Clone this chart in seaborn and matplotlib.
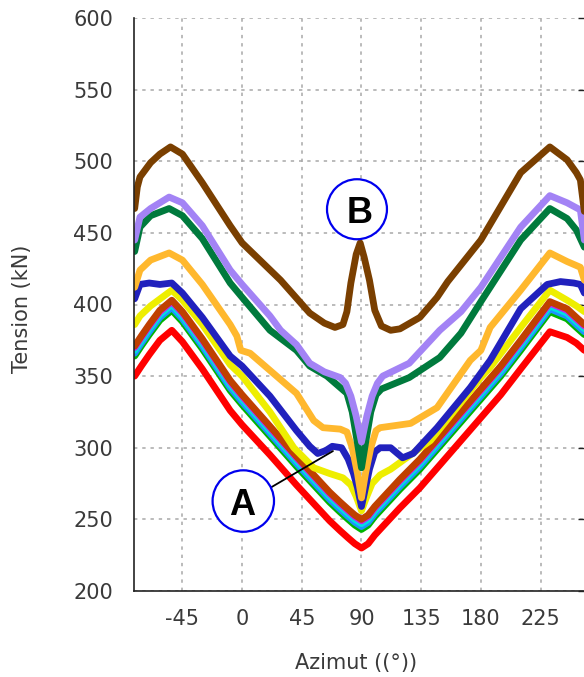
import matplotlib
matplotlib.use("Agg")
import matplotlib.pyplot as plt
from matplotlib.patches import Ellipse
import seaborn as sns
import pandas as pd

# ---------------- data ----------------
brown_x = [-81, -79, -77, -69, -62, -54, -45, -30, -9, 0, 29, 51, 62, 70, 76, 79, 82, 86, 89, 92,
           96, 100, 105, 112, 119, 134, 147, 155, 180, 210, 232, 245, 252, 255, 258]
brown_y = [467, 482, 489, 499, 505, 510, 505, 485, 455, 443, 417, 394, 387, 384, 386, 395, 415, 435, 443, 433,
           417, 396, 385, 382, 383, 391, 405, 416, 445, 492, 510, 501, 492, 487, 465]

lav_x = [-81, -77, -69, -55, -45, -30, -9, 0, 21, 29, 41, 51, 62, 74, 78, 82, 86, 90, 94, 98,
         102, 106, 126, 142, 149, 165, 180, 210, 232, 245, 255, 258]
lav_y = [445, 461, 467, 475, 471, 455, 424, 414, 392, 382, 372, 359, 353, 349, 345, 336, 322, 304, 322, 336,
         345, 350, 359, 375, 382, 395, 412, 454, 476, 471, 466, 445]

dgreen_x = [-81, -77, -69, -55, -45, -30, -9, 0, 21, 41, 51, 64, 74, 79, 83, 87, 90, 93, 97, 101,
            105, 126, 149, 165, 180, 210, 232, 245, 252, 258]
dgreen_y = [437, 454, 462, 467, 462, 446, 415, 405, 382, 368, 357, 350, 342, 338, 325, 303, 286, 303, 325, 337,
            341, 349, 363, 380, 402, 445, 467, 460, 452, 440]

orange_x = [-81, -77, -69, -55, -45, -30, -9, -4, -1, 6, 21, 41, 54, 61, 74, 79, 83, 87, 90, 93,
            97, 101, 104, 127, 147, 172, 180, 187, 210, 232, 245, 255, 258]
orange_y = [412, 424, 431, 436, 431, 414, 386, 378, 368, 366, 354, 338, 319, 314, 313, 311, 300, 282, 265, 282,
            300, 312, 314, 317, 328, 361, 368, 384, 410, 436, 430, 426, 417]

dblue_x = [-81, -77, -70, -62, -53, -45, -30, -9, 0, 21, 41, 51, 57, 63, 68, 75, 80, 84, 87, 90,
           93, 96, 100, 104, 112, 121, 129, 147, 172, 187, 210, 230, 240, 250, 255, 258]
dblue_y = [404, 414, 415, 414, 415, 408, 391, 364, 357, 336, 312, 301, 296, 298, 301, 300, 292, 282, 272, 259,
           272, 285, 297, 300, 300, 293, 296, 314, 342, 361, 397, 414, 416, 415, 414, 408]

yellow_x = [-81, -77, -69, -53, -45, -30, -9, 0, 21, 39, 54, 66, 76, 82, 86, 90, 94, 98, 104, 112,
            142, 180, 187, 210, 232, 245, 252, 258]
yellow_y = [386, 392, 399, 410, 403, 386, 358, 350, 325, 300, 286, 282, 279, 274, 266, 256, 266, 275, 281, 285,
            305, 349, 356, 384, 410, 403, 399, 395]

low_x = [-81, -76, -70, -62, -53, -45, -30, -9, 0, 21, 41, 55, 66, 74, 80, 85, 90, 95, 100, 106,
         119, 134, 150, 165, 180, 195, 210, 232, 245, 252, 258]
rust_y = [371, 378, 386, 396, 403, 395, 376, 347, 337, 315, 294, 280, 269, 262, 257, 253, 250, 253, 259, 265,
          278, 292, 309, 325, 341, 357, 375, 402, 397, 391, 386]
magenta_y = [370, 377, 385, 395, 402, 394, 375, 346, 336, 314, 293, 279, 268, 261, 256, 252, 249, 252, 258, 264,
             277, 291, 308, 324, 340, 356, 374, 401, 396, 390, 385]
cyan_y = [368, 375, 383, 393, 400, 392, 373, 344, 334, 312, 291, 277, 266, 259, 254, 250, 247, 250, 256, 262,
          275, 289, 306, 322, 338, 354, 372, 399, 394, 388, 383]
sky_y = [366, 373, 381, 391, 398, 390, 371, 342, 332, 310, 289, 275, 264, 257, 252, 248, 245, 248, 254, 260,
         273, 287, 304, 320, 336, 352, 370, 397, 392, 386, 381]
lgreen_y = [364, 371, 379, 389, 396, 388, 369, 340, 330, 308, 287, 273, 262, 255, 250, 246, 243, 246, 252, 258,
            271, 285, 302, 318, 334, 350, 368, 395, 390, 384, 379]
red_y = [350, 357, 365, 375, 382, 374, 355, 326, 316, 295, 274, 260, 249, 242, 237, 233, 230, 233, 239, 245,
         258, 272, 289, 305, 321, 337, 355, 381, 377, 373, 368]

x_ticks = [-45, 0, 45, 90, 135, 180, 225]
y_ticks = [200, 250, 300, 350, 400, 450, 500, 550, 600]

series = [
    ("red", low_x, red_y, "#ff0000"),
    ("lgreen", low_x, lgreen_y, "#00b400"),
    ("sky", low_x, sky_y, "#1e90ff"),
    ("cyan", low_x, cyan_y, "#00e0e0"),
    ("magenta", low_x, magenta_y, "#c020f0"),
    ("rust", low_x, rust_y, "#c04000"),
    ("yellow", yellow_x, yellow_y, "#eeee00"),
    ("dblue", dblue_x, dblue_y, "#2121bd"),
    ("orange", orange_x, orange_y, "#ffb82e"),
    ("dgreen", dgreen_x, dgreen_y, "#007a3d"),
    ("lavender", lav_x, lav_y, "#a383f5"),
    ("brown", brown_x, brown_y, "#7a3f00"),
]

frames = []
for name, xs, ys, _c in series:
    frames.append(pd.DataFrame({"az": xs, "kn": ys, "series": name}))
df = pd.concat(frames, ignore_index=True)
order = [s[0] for s in series]
palette = {s[0]: s[3] for s in series}

# ---------------- figure ----------------
sns.set_style("white")
plt.rcParams["font.family"] = ["DejaVu Sans"]

fig = plt.figure(figsize=(5.84, 6.77), dpi=100)
ax = fig.add_axes([134 / 584, 1 - 591 / 677, 451 / 584, 573 / 677])

sns.lineplot(data=df, x="az", y="kn", hue="series", hue_order=order, palette=palette,
             estimator=None, sort=False, legend=False, linewidth=4.9, ax=ax)

ax.set_xlim(-81.5, 258.5)
ax.set_ylim(200, 600)
ax.set_xticks(x_ticks)
ax.set_xticklabels([str(v) for v in x_ticks])
ax.set_yticks(y_ticks)
ax.set_yticklabels([str(v) for v in y_ticks])

ax.grid(True, color="#a8a8a8", linestyle=(0, (2.2, 3.2)), linewidth=1.1)
ax.set_axisbelow(True)

for side in ["top", "right"]:
    ax.spines[side].set_visible(False)
for side in ["left", "bottom"]:
    ax.spines[side].set_color("#222222")
    ax.spines[side].set_linewidth(1.2)

ax.tick_params(axis="both", direction="in", length=5, width=1, color="#222222",
               labelsize=15, labelcolor="#3a3a3a")
ax.tick_params(axis="y", pad=15, right=True, labelright=False)
ax.tick_params(axis="x", pad=13)

ax.set_xlabel("Azimut ((°))", fontsize=15, color="#3a3a3a")
ax.set_ylabel("Tension (kN)", fontsize=15, color="#3a3a3a")
ax.xaxis.set_label_coords(0.492, -0.1257)
ax.xaxis.label.set_va("center")
ax.yaxis.set_label_coords(-0.248, 0.492)
ax.yaxis.label.set_va("center")

# annotations
ax.plot([21.0, 68.5], [271.9, 297.7], color="black", linewidth=1.3, zorder=9)
ax.add_patch(Ellipse((86.6, 466.5), 45.2, 41.9, facecolor="white", edgecolor="#0000ee",
                     linewidth=1.6, zorder=10))
ax.add_patch(Ellipse((0.9, 262.8), 46.3, 42.9, facecolor="white", edgecolor="#0000ee",
                     linewidth=1.6, zorder=10))
ax.text(88.5, 456.9, "B", fontsize=26, fontweight="bold", color="black",
        family=["Liberation Sans", "DejaVu Sans"], ha="center", va="baseline", zorder=11)
ax.text(0.3, 253.1, "A", fontsize=26, fontweight="bold", color="black",
        family=["Liberation Sans", "DejaVu Sans"], ha="center", va="baseline", zorder=11)

fig.savefig("out.png", dpi=100)
